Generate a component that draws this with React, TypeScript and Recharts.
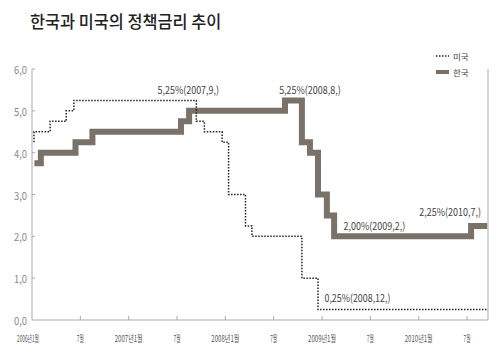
import React from 'react';
import {
  LineChart,
  Line,
  XAxis,
  YAxis,
  ReferenceLine,
  ReferenceDot,
  Legend,
} from 'recharts';

// months counted from 2006.1 (= 0)
const koreaMonths = [0.3, 1.1, 5.4, 7.5, 18.5, 19.5, 31.4, 33.5, 34.5, 35.5, 36.6, 37.5, 54.5, 56.5];
const koreaRates = [3.75, 4.0, 4.25, 4.5, 4.75, 5.0, 5.25, 4.25, 4.0, 3.0, 2.5, 2.0, 2.25, 2.25];

const usMonths = [0.25, 0.25, 2.25, 4.25, 5.2, 20.4, 21.4, 23.6, 24.4, 26.5, 27.3, 33.5, 35.5, 56.6];
const usRates = [4.25, 4.5, 4.75, 5.0, 5.25, 4.75, 4.5, 4.25, 3.0, 2.25, 2.0, 1.0, 0.25, 0.25];

const xTicks = [0, 6, 12, 18, 24, 30, 36, 42, 48, 54];
const xTickLabels = ['2006년1월', '7월', '2007년1월', '7월', '2008년1월', '7월', '2009년1월', '7월', '2010년1월', '7월'];
const yTicks = [0, 1, 2, 3, 4, 5, 6];

const noteTexts = ['5,25%(2007,9,)', '5,25%(2008,8,)', '2,00%(2009,2,)', '2,25%(2010,7,)', '0,25%(2008,12,)'];
const noteMonths = [19.4, 34.5, 42.5, 51.9, 40.4];
const noteRates = [5.52, 5.52, 2.25, 2.6, 0.54];

const X_MAX = 56.6;
const FONT = "'Noto Sans CJK KR', 'Noto Sans', sans-serif";

const koreaData = koreaMonths.map((m, i) => ({ m, v: koreaRates[i] }));
const usData = usMonths.map((m, i) => ({ m, v: usRates[i] }));

function XTick({ x, y, payload }: any) {
  const idx = xTicks.indexOf(payload.value);
  const label = xTickLabels[idx] ?? '';
  const width = label.length <= 2 ? 7 : idx === 0 ? 22 : 28;
  return (
    <g>
      {idx > 0 && <line x1={x} x2={x} y1={y - 4} y2={y} stroke="#aaa" />}
      <text
        x={idx === 0 ? x - 4 : x}
        y={y + 22}
        textAnchor="middle"
        fontSize={9}
        fontFamily={FONT}
        fill="#555"
        textLength={width}
        lengthAdjust="spacingAndGlyphs"
      >
        {label}
      </text>
    </g>
  );
}

function YTick({ x, y, payload }: any) {
  return (
    <g>
      {payload.value > 0 && <line x1={x} x2={x + 3} y1={y} y2={y} stroke="#aaa" />}
      <text
        x={x - 5}
        y={y}
        textAnchor="end"
        dominantBaseline="central"
        fontSize={11}
        fontFamily={FONT}
        fill="#888"
        textLength={13}
        lengthAdjust="spacingAndGlyphs"
      >
        {Number(payload.value).toFixed(1).replace('.', ',')}
      </text>
    </g>
  );
}

const noteLabel = (text: string) => (props: any) => {
  const vb = props.viewBox ?? {};
  const cx = (vb.x ?? 0) + (vb.width ?? 0) / 2;
  const cy = (vb.y ?? 0) + (vb.height ?? 0) / 2;
  return (
    <text
      x={cx}
      y={cy}
      textAnchor="middle"
      dominantBaseline="central"
      fontSize={10.5}
      fontFamily={FONT}
      fill="#444"
      textLength={text.length * 4.4}
      lengthAdjust="spacingAndGlyphs"
    >
      {text}
    </text>
  );
};

function LegendBox() {
  return (
    <svg width={60} height={26} style={{ display: 'block', overflow: 'visible' }}>
      <line x1={0} x2={13} y1={4} y2={4} stroke="#222" strokeWidth={1.5} strokeDasharray="1.5 1.5" />
      <text x={17} y={4} dominantBaseline="central" fontSize={8.5} fontFamily={FONT} fill="#444">
        미국
      </text>
      <line x1={0} x2={13} y1={20} y2={20} stroke="#7a7169" strokeWidth={4} />
      <text x={17} y={20} dominantBaseline="central" fontSize={8.5} fontFamily={FONT} fill="#444">
        한국
      </text>
    </svg>
  );
}

export default function App() {
  return (
    <div style={{ position: 'absolute', left: 0, top: 0, width: 500, height: 355, background: '#fff' }}>
      <div
        style={{
          position: 'absolute',
          left: 30,
          top: 8,
          height: 25,
          lineHeight: '25px',
          fontSize: 17,
          fontWeight: 500,
          fontFamily: FONT,
          color: '#222',
          whiteSpace: 'nowrap',
          transform: 'scaleX(0.96)',
          transformOrigin: 'left center',
        }}
      >
        한국과 미국의 정책금리 추이
      </div>
      <LineChart width={500} height={355} margin={{ top: 43, right: 12, left: 0, bottom: 0 }}>
        <XAxis
          dataKey="m"
          type="number"
          domain={[0, X_MAX]}
          ticks={xTicks}
          allowDuplicatedCategory
          height={35}
          tickSize={0}
          tickMargin={0}
          tickLine={false}
          axisLine={{ stroke: '#aaa' }}
          tick={<XTick />}
          interval={0}
        />
        <YAxis
          type="number"
          domain={[0, 6]}
          ticks={yTicks}
          width={32}
          tickSize={0}
          tickMargin={0}
          tickLine={false}
          axisLine={{ stroke: '#aaa' }}
          tick={<YTick />}
          interval={0}
        />
        <ReferenceLine x={X_MAX} stroke="#aaa" />
        <Legend
          verticalAlign="top"
          align="left"
          wrapperStyle={{ position: 'absolute', left: 436, top: 52, width: 60 }}
          content={() => <LegendBox />}
        />
        <Line
          data={koreaData}
          dataKey="v"
          type="stepAfter"
          stroke="#7a7169"
          strokeWidth={6}
          strokeLinecap="butt"
          strokeLinejoin="miter"
          dot={false}
          isAnimationActive={false}
        />
        <Line
          data={usData}
          dataKey="v"
          type="stepAfter"
          stroke="#222"
          strokeWidth={1.5}
          strokeDasharray="1.5 1.5"
          dot={false}
          isAnimationActive={false}
        />
        {noteTexts.map((t, i) => (
          <ReferenceDot
            key={t}
            x={noteMonths[i]}
            y={noteRates[i]}
            r={0}
            fill="none"
            stroke="none"
            label={noteLabel(t)}
          />
        ))}
      </LineChart>
    </div>
  );
}
